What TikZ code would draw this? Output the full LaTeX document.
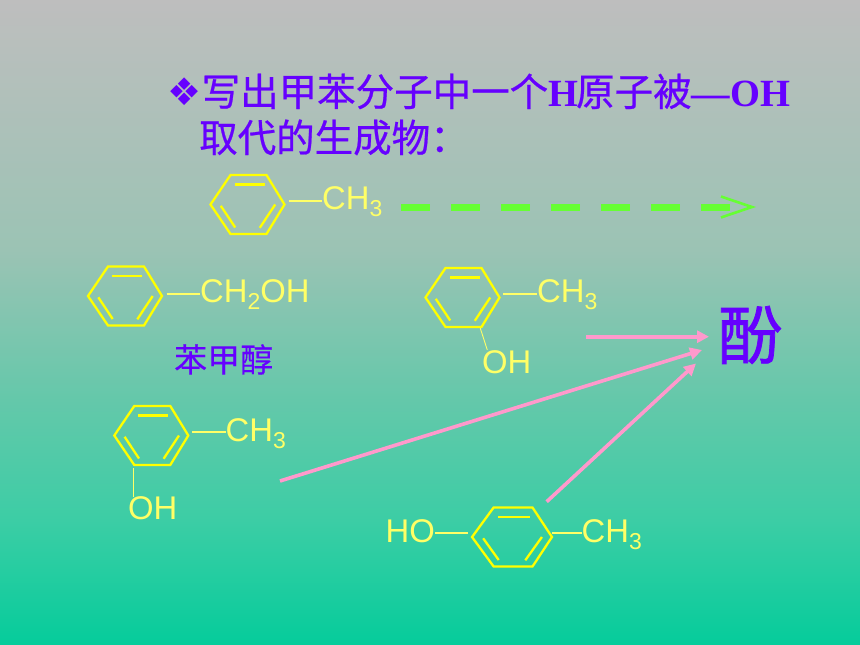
\documentclass[tikz,border=0pt]{standalone}
\usepackage{fontspec}
\usepackage{color}
\usetikzlibrary{arrows.meta}
\setmainfont{Liberation Sans}
\newfontfamily\cjkfont{Noto Sans CJK SC}[FakeBold=0.6]
\newfontfamily\namefont{Noto Sans CJK SC}[FakeBold=0.3]
\newfontfamily\phenolfont{Noto Sans CJK SC}[FakeBold=1.2]
\newfontfamily\serifbold{Liberation Serif}[BoldFont={Liberation Serif Bold}]
\newfontfamily\symfont{DejaVu Sans}
\definecolor{bgtop}{RGB}{190,190,190}
\definecolor{bgb}{RGB}{155,195,180}
\definecolor{bgc}{RGB}{100,200,170}
\definecolor{bgd}{RGB}{60,205,165}
\definecolor{bgbottom}{RGB}{5,204,155}
\definecolor{ringyellow}{RGB}{255,255,0}
\definecolor{textyellow}{RGB}{255,255,102}
\definecolor{titlepurple}{RGB}{102,0,255}
\definecolor{arrowpink}{RGB}{255,153,204}
\definecolor{dashgreen}{RGB}{102,255,51}
\pgfdeclareverticalshading{bgshade}{100bp}{color(0bp)=(bgbottom); color(25bp)=(bgbottom); color(34.7bp)=(bgd); color(44bp)=(bgc); color(55.6bp)=(bgb); color(75bp)=(bgtop); color(100bp)=(bgtop)}
\newcommand{\subnum}[1]{\raisebox{-7pt}{\fontsize{23}{23}\selectfont #1}}
\tikzset{
  benzene/.pic={
    \draw[ringline] (-37,0) -- (-17,-29.5) -- (19,-29.5) -- (37,0) -- (19,29.5) -- (-17,29.5) -- cycle;
    \draw[ringline] (-13,-20) -- (17,-20);
    \draw[ringline] (-26.7,1.3) -- (-12.3,23);
    \draw[ringline] (27.7,0) -- (12.3,23.3);
  },
  ringline/.style={draw=ringyellow, line width=2.3pt, line join=miter},
  chem/.style={text=textyellow, inner sep=0pt, anchor=base west, font=\fontsize{32.8}{33}\selectfont},
  bond/.style={draw=textyellow, line width=2.2pt},
  thinbond/.style={draw=textyellow, line width=0.9pt},
  titletext/.style={text=titlepurple, inner sep=0pt, anchor=base west, font=\fontsize{38.5}{38.5}\selectfont\cjkfont},
  pinkarrow/.style={draw=arrowpink, line width=3.6pt, -{Triangle[length=12pt,width=12pt]}},
}
\begin{document}
\begin{tikzpicture}[x=1pt, y=-1pt]
\useasboundingbox (0,0) rectangle (860,645);
\shade[shading=bgshade] (0,0) rectangle (860,645);

\node(bullet) [titletext, font=\fontsize{38}{38}\selectfont\symfont] at (167,105) {❖};
\node(title1) [titletext] at (201.5,106) {写出甲苯分子中一个{\serifbold\bfseries H}\kern-2pt原子被{\serifbold\bfseries —OH}};
\node(title2) [titletext] at (199,152) {取代的生成物：};

\pic (ring1) at (247.5,204.5) {benzene};
\coordinate (b1) at (288.6,201);
\node(ch1) [chem] at (322,209) {CH\subnum{3}};
\draw[bond] (b1) -- (b1 -| ch1.west);

\coordinate (dashstart) at (401,207);
\coordinate (dashend) at (756,207);
\draw[draw=dashgreen, line width=7pt, dash pattern=on 29pt off 21pt, -{Straight Barb[length=31pt,width=21pt,line width=2.6pt]}] (dashstart) -- (dashend);

\pic (ring2) at (125,296) {benzene};
\coordinate (b2) at (166.7,293.7);
\node(ch2) [chem] at (200,302) {CH\subnum{2}OH};
\draw[bond] (b2) -- (b2 -| ch2.west);
\node(benzylname) [titletext, font=\fontsize{33}{33}\selectfont\namefont] at (174,372) {苯甲醇};

\pic (ring3) at (462.5,297.5) {benzene};
\coordinate (b3) at (503.3,293.7);
\node(ch3) [chem] at (537,302) {CH\subnum{3}};
\draw[bond] (b3) -- (b3 -| ch3.west);
\coordinate (b3a) at (480.3,328.3);
\coordinate (b3b) at (487.3,350);
\node(oh3) [chem] at (482,373.5) {OH};
\draw[thinbond] (b3a) -- (b3b);

\pic (ring4) at (151.3,435.5) {benzene};
\coordinate (b4) at (192.3,432);
\node(ch4) [chem] at (225.5,441) {CH\subnum{3}};
\draw[bond] (b4) -- (b4 -| ch4.west);
\coordinate (b4a) at (133.3,468.3);
\coordinate (b4b) at (133.3,496.7);
\node(oh4) [chem] at (128,519) {OH};
\draw[thinbond] (b4a) -- (b4b);

\pic[xscale=1.08] (ring5) at (512,537) {benzene};
\node(ho5) [chem] at (385.5,542) {HO};
\coordinate (b5a) at (467.7,533.3);
\draw[bond] (ho5.east |- b5a) -- (b5a);
\coordinate (b5b) at (551.7,533.3);
\node(ch5) [chem] at (581.5,542) {CH\subnum{3}};
\draw[bond] (b5b) -- (b5b -| ch5.west);

\node(phenol) [titletext, font=\fontsize{64}{64}\selectfont\phenolfont] at (718,359) {酚};

\coordinate (start1) at (586,336.7);
\coordinate (end1) at (709,336.7);
\coordinate (start2) at (280,481);
\coordinate (end2) at (702,350);
\coordinate (start3) at (546.7,501.7);
\coordinate (end3) at (696,363.5);
\draw[pinkarrow] (start1) -- (end1);
\draw[pinkarrow] (start2) -- (end2);
\draw[pinkarrow] (start3) -- (end3);

\end{tikzpicture}
\end{document}
